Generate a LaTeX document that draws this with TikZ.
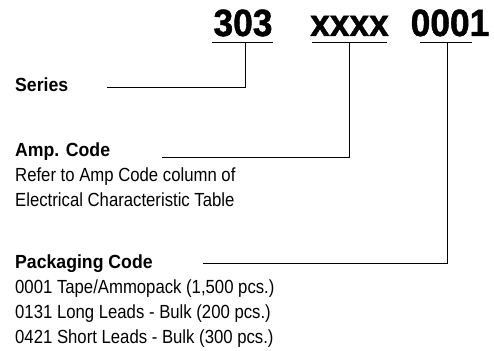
\documentclass[tikz,border=0pt]{standalone}
\usepackage{fontspec}
\setmainfont{Liberation Sans}[FakeStretch=0.88]
\newfontfamily\headfont{Liberation Sans Bold}[FakeStretch=0.93]
\newfontfamily\codefont{Liberation Sans Bold}[FakeStretch=0.93,FakeBold=1.2]
\usepackage{tikz}
\usetikzlibrary{calc,positioning}
\tikzset{
    code/.style={
    font=\fontsize{38}{40}\codefont,inner sep=0pt,anchor=base
    },
    label/.style={
    font=\fontsize{19}{25}\selectfont,inner sep=0pt,anchor=base west,align=left
    },
    leader/.style={
    draw=black,line width=1pt
    },
}

\begin{document}
\begin{tikzpicture}[x=1pt,y=-1pt]
   \useasboundingbox (0,0) rectangle (494,350);
   % part number
   \node[code] (ser) at (243,36) {303};
   \node[code] (amp) at (349.5,36) {xxxx};
   \node[code] (pkg) at (450,36) {0001};
   % labels (base = last line)
   \node[label] (serL) at (15,92) {{\headfont Series}};
   \node[label] (ampL) at (15,206) {{\headfont Amp. Code}\\Refer to Amp Code column of\\Electrical Characteristic Table};
   \node[label] (pkgL) at (15,343) {{\headfont Packaging Code}\\0001 Tape/Ammopack (1,500 pcs.)\\0131 Long Leads - Bulk (200 pcs.)\\0421 Short Leads - Bulk (300 pcs.)};
   % underlines and leaders
   \coordinate (ser1) at (212,43);
   \coordinate (ser2) at (273,43);
   \coordinate (serT) at (245,43);
   \coordinate (serE) at (107,88);
   \coordinate (amp1) at (312,43);
   \coordinate (amp2) at (387,43);
   \coordinate (ampT) at (349,43);
   \coordinate (ampE) at (162,157);
   \coordinate (pkg1) at (420,43);
   \coordinate (pkg2) at (472,43);
   \coordinate (pkgT) at (447,43);
   \coordinate (pkgE) at (203,263);

  \path[leader]
    (ser1) edge (ser2)
    (amp1) edge (amp2)
    (pkg1) edge (pkg2);
  \draw[leader] (serT) |- (serE);
  \draw[leader] (ampT) |- (ampE);
  \draw[leader] (pkgT) |- (pkgE);
\end{tikzpicture}
\end{document}
